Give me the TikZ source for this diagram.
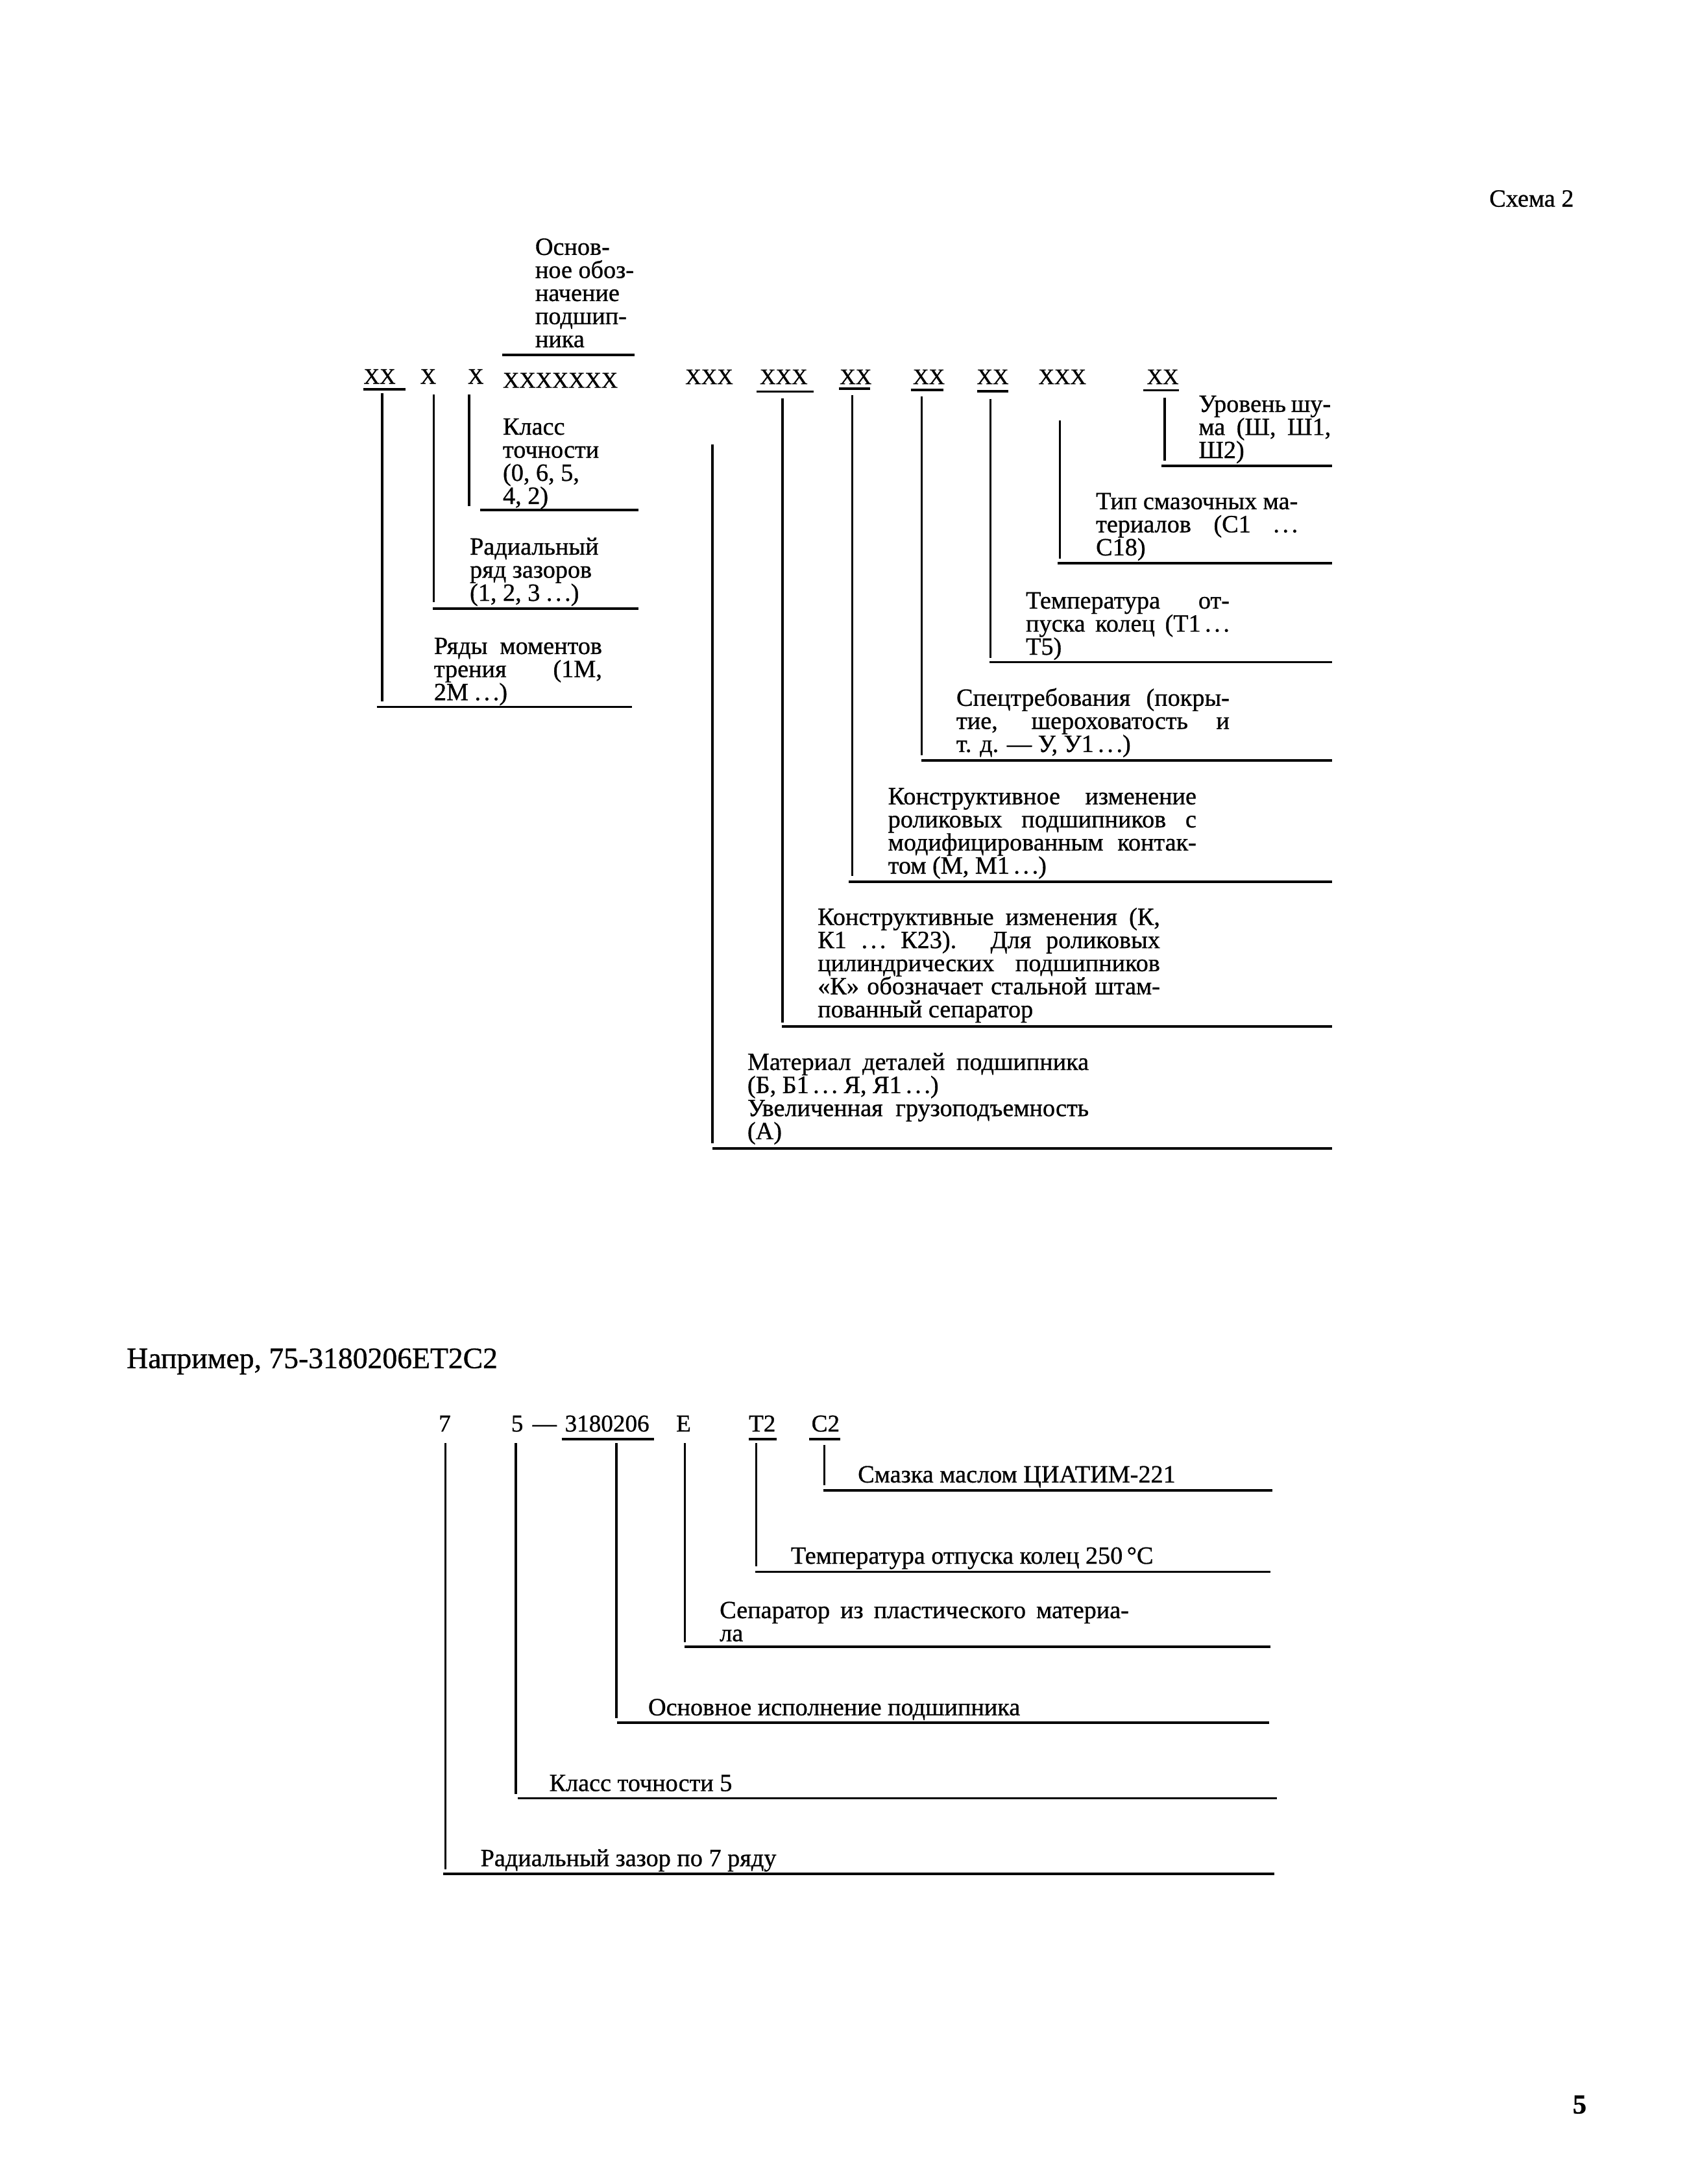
\documentclass[tikz,border=0pt]{standalone}
\usepackage{fontspec}
\setmainfont{Liberation Serif}[FakeBold=0.8]
\newcommand\bodyf{\fontsize{18}{16.75}\selectfont}
\newcommand\codef{\fontsize{16}{16}\selectfont}
\newcommand\codeb{\fontsize{17.5}{17.5}\selectfont}
\newcommand\jl[2]{\makebox[#1pt][s]{#2}}
\newcommand\dd{.\kern0.12em.\kern0.12em.}
\newcommand\blk[1]{\vtop{\bodyf\lineskiplimit=-100pt\lineskip=0pt #1}}
\newcommand\li[1]{\hbox{#1}}
% leader: name, x, ytop, ybottom, xleft, yh, xright
\newcommand\ldr[7]{%
  \coordinate (#1t) at (#2,#3);
  \coordinate (#1b) at (#2,#4);
  \coordinate (#1l) at (#5,#6);
  \coordinate (#1r) at (#7,#6);
  \draw[ln] (#1t) -- (#1b);
  \draw[ln] (#1l) -- (#1r);}
% underline: name, x1, x2, y
\newcommand\uln[4]{%
  \coordinate (#1a) at (#2,#4);
  \coordinate (#1z) at (#3,#4);
  \draw[ln] (#1a) -- (#1z);}
\begin{document}
\begin{tikzpicture}[x=1pt,y=-1pt,
  txt/.style={anchor=base west, inner sep=0pt, outer sep=0pt, font=\bodyf},
  code/.style={anchor=base west, inner sep=0pt, outer sep=0pt, font=\codef},
  codeB/.style={anchor=base west, inner sep=0pt, outer sep=0pt, font=\codeb},
  ln/.style={line width=1.6pt}]
\useasboundingbox[fill=white] (0,0) rectangle (1224,1585.2);

% ---------- header ----------
\node[txt] (schema) at (1081,150) {Схема 2};

% ---------- top code row ----------
\node[code] (c1) at (264,278.5) {XX};
\node[code] (c2) at (305,278.5) {X};
\node[code] (c3) at (339.5,278.5) {X};
\node[code, font=\fontsize{16.5}{16.5}\selectfont] (c4) at (365,281.5) {XXXXXXX};
\node[code] (r1) at (497.4,278.8) {XXX};
\node[code] (r2) at (551.5,278.8) {XXX};
\node[code] (r3) at (609.5,278.8) {XX};
\node[code] (r4) at (662.6,278.8) {XX};
\node[code] (r5) at (709,278.8) {XX};
\node[code] (r6) at (753.7,278.8) {XXX};
\node[code] (r7) at (832.4,278.8) {XX};

% underlines of codes
\uln{u1}{263.5}{294.5}{282.5}
\uln{u2}{549}{590.5}{284.3}
\uln{u3}{609}{631.5}{282}
\uln{u4}{661}{684.6}{283}
\uln{u5}{709}{732}{284}
\uln{u7}{830}{855.8}{283.4}

% ---------- main designation ----------
\node[txt] (osn) at (388.5,185) {\blk{\li{Основ-}\li{ное обоз-}\li{начение}\li{подшип-}\li{ника}}};
\uln{uo}{364.5}{460.6}{257.6}

% ---------- left leaders ----------
\ldr{L1}{277.3}{285.5}{509.3}{273.4}{513.2}{458.8}
\ldr{L2}{314.9}{286.4}{437.2}{314}{441.7}{463.6}
\ldr{L3}{340.4}{286.4}{367.2}{348.5}{370.2}{463.3}

\node[txt] (klass) at (365,315.5) {\blk{\li{Класс}\li{точности}\li{(0, 6, 5,}\li{4, 2)}}};
\node[txt] (radial) at (341,402.6) {\blk{\li{Радиальный}\li{ряд зазоров}\li{(1, 2, 3 \dd)}}};
\node[txt] (ryady) at (315,474.7) {\blk{\li{\jl{122}{Ряды моментов}}\li{\jl{122}{трения (1М,}}\li{2М \dd)}}};

% ---------- right leaders ----------
\ldr{R1}{517}{322.4}{830}{517}{833.6}{967}
\ldr{R2}{568}{289}{742}{567.4}{745}{967}
\ldr{R3}{618.7}{287}{636}{616}{640}{967}
\ldr{R4}{669}{287.6}{548}{668.6}{552}{967}
\ldr{R5}{719}{289.4}{477.7}{718}{480.7}{967}
\ldr{R6}{769.3}{305}{405.5}{767.8}{408.8}{967}
\ldr{R7}{845.3}{288.5}{334.5}{843}{338.2}{967}

\node[txt] (shum) at (870,299) {\blk{\li{\jl{96}{Уровень шу-}}\li{\jl{96}{ма (Ш, Ш1,}}\li{Ш2)}}};
\node[txt] (smaz) at (795.5,369.6) {\blk{\li{\jl{146.5}{Тип смазочных ма-}}\li{\jl{146.5}{териалов (С1 \dd}}\li{С18)}}};
\node[txt] (temp) at (744.6,441.7) {\blk{\li{\jl{147.8}{Температура от-}}\li{\jl{147.8}{пуска колец (Т1\,\dd}}\li{Т5)}}};
\node[txt] (spec) at (694.2,512.3) {\blk{\li{\jl{198.2}{Спецтребования (покры-}}\li{\jl{198.2}{тие, шероховатость и}}\li{т. д. — У, У1\,\dd)}}};
\node[txt] (konstr1) at (644.6,583.8) {\blk{\li{\jl{223.8}{Конструктивное изменение}}\li{\jl{223.8}{роликовых подшипников с}}\li{\jl{223.8}{модифицированным контак-}}\li{том (М, М1\,\dd)}}};
\node[txt] (konstr2) at (593.5,671.4) {\blk{\li{\jl{248.5}{Конструктивные изменения (К,}}\li{\jl{248.5}{К1 \dd\ К23). Для роликовых}}\li{\jl{248.5}{цилиндрических подшипников}}\li{\jl{248.5}{«К» обозначает стальной штам-}}\li{пованный сепаратор}}};
\node[txt] (mater) at (542.5,776.6) {\blk{\li{\jl{247.8}{Материал деталей подшипника}}\li{(Б, Б1\,\dd\ Я, Я1\,\dd)}\li{\jl{247.8}{Увеличенная грузоподъемность}}\li{(А)}}};

% ---------- example ----------
\node[txt, font=\fontsize{21.5}{21.5}\selectfont] (primer) at (92,993) {Например, 75-3180206ЕТ2С2};

\node[codeB] (b1) at (318.4,1039) {7};
\node[codeB] (b2) at (371,1039) {5};
\node[codeB] (bd) at (386.5,1039) {—};
\node[codeB] (b3) at (410,1039) {3180206};
\node[codeB] (b4) at (490.8,1039) {Е};
\node[codeB] (b5) at (543.5,1039) {Т2};
\node[codeB] (b6) at (589,1039) {С2};

\uln{ub3}{407.6}{474.6}{1044.5}
\uln{ub5}{543.5}{563.8}{1044.5}
\uln{ub6}{587.4}{609.7}{1044.5}

\ldr{B1}{323.2}{1047.4}{1357}{321.6}{1360}{925}
\ldr{B2}{374.4}{1047.4}{1302}{376}{1305.2}{927}
\ldr{B3}{447.4}{1047.4}{1247}{448}{1250.3}{921}
\ldr{B4}{497}{1047.4}{1192}{497}{1195.3}{922}
\ldr{B5}{548.8}{1047.4}{1137}{548.4}{1140.8}{922}
\ldr{B6}{598.3}{1049}{1078}{597.5}{1081.7}{923.7}

\node[txt] (e6) at (622.7,1076) {Смазка маслом ЦИАТИМ-221};
\node[txt] (e5) at (574,1135) {Температура отпуска колец 250\,°С};
\node[txt] (e4) at (522.4,1174.5) {\blk{\li{\jl{297}{Сепаратор из пластического материа-}}\li{ла}}};
\node[txt] (e3) at (470.5,1245) {Основное исполнение подшипника};
\node[txt] (e2) at (398.7,1300) {Класс точности 5};
\node[txt] (e1) at (348.8,1354.5) {Радиальный зазор по 7 ряду};

% ---------- page number ----------
\node[txt, font=\fontsize{20}{20}\selectfont\bfseries] (page) at (1141.5,1534) {5};
\end{tikzpicture}
\end{document}
